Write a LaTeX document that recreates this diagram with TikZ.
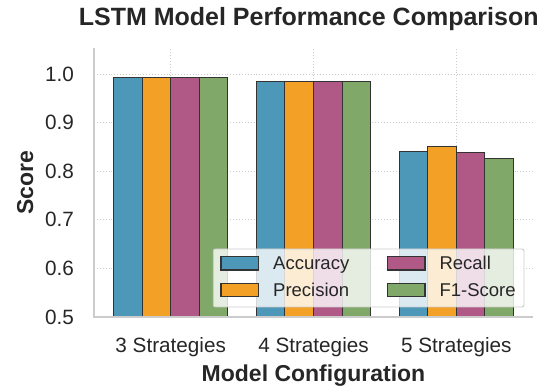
\documentclass[tikz,border=0pt]{standalone}
\usepackage{fontspec}
\setmainfont{Liberation Sans}
\usepackage{xcolor}
\usetikzlibrary{positioning}
\definecolor{accblue}{RGB}{77,152,184}
\definecolor{preorange}{RGB}{243,160,38}
\definecolor{recpurple}{RGB}{176,89,135}
\definecolor{fonegreen}{RGB}{128,168,104}
\definecolor{spinegray}{RGB}{204,204,204}
\definecolor{textgray}{RGB}{38,38,38}

\begin{document}
\begin{tikzpicture}[x=1pt,y=1pt,
        bar/.style={draw=black!80,line width=1.1pt},
        gridline/.style={draw=spinegray,dotted,line width=0.9pt},
        spine/.style={draw=spinegray,line width=1.8pt}]
    \useasboundingbox (0,0) rectangle (556,387);

    \begin{scope}[shift={(170.7pt,-173pt)},x=142.8pt,y=486pt]
        \draw[gridline] (-0.537,0.6) -- (2.537,0.6);
        \draw[gridline] (-0.537,0.7) -- (2.537,0.7);
        \draw[gridline] (-0.537,0.8) -- (2.537,0.8);
        \draw[gridline] (-0.537,0.9) -- (2.537,0.9);
        \draw[gridline] (-0.537,1.0) -- (2.537,1.0);
        \draw[gridline] (0,0.5) -- (0,1.0535);
        \draw[gridline] (1,0.5) -- (1,1.0535);
        \draw[gridline] (2,0.5) -- (2,1.0535);

        \draw[bar,fill=accblue]   (-0.4,0.5) rectangle (-0.2,0.993);
        \draw[bar,fill=preorange] (-0.2,0.5) rectangle (0.0,0.993);
        \draw[bar,fill=recpurple] (0.0,0.5) rectangle (0.2,0.993);
        \draw[bar,fill=fonegreen] (0.2,0.5) rectangle (0.4,0.993);

        \draw[bar,fill=accblue]   (0.6,0.5) rectangle (0.8,0.985);
        \draw[bar,fill=preorange] (0.8,0.5) rectangle (1.0,0.985);
        \draw[bar,fill=recpurple] (1.0,0.5) rectangle (1.2,0.985);
        \draw[bar,fill=fonegreen] (1.2,0.5) rectangle (1.4,0.985);

        \draw[bar,fill=accblue]   (1.6,0.5) rectangle (1.8,0.840);
        \draw[bar,fill=preorange] (1.8,0.5) rectangle (2.0,0.851);
        \draw[bar,fill=recpurple] (2.0,0.5) rectangle (2.2,0.839);
        \draw[bar,fill=fonegreen] (2.2,0.5) rectangle (2.4,0.827);

        \draw[spine] (-0.537,1.0535) -- (-0.537,0.5) -- (2.537,0.5);

        \coordinate (y05) at (-0.537,0.5);
        \coordinate (y06) at (-0.537,0.6);
        \coordinate (y07) at (-0.537,0.7);
        \coordinate (y08) at (-0.537,0.8);
        \coordinate (y09) at (-0.537,0.9);
        \coordinate (y10) at (-0.537,1.0);
        \coordinate (c3) at (0,0.5);
        \coordinate (c4) at (1,0.5);
        \coordinate (c5) at (2,0.5);
    \end{scope}

    \begin{scope}[every node/.style={inner sep=0pt,text=textgray,font=\fontsize{20.7}{24}\selectfont}]
        \node[left=20pt of y05] (t05) {0.5};
        \node[left=20pt of y06] (t06) {0.6};
        \node[left=20pt of y07] (t07) {0.7};
        \node[left=20pt of y08] (t08) {0.8};
        \node[left=20pt of y09] (t09) {0.9};
        \node[left=20pt of y10] (t10) {1.0};
        \node[below=20pt of c3] (s3) {3 Strategies};
        \node[below=20pt of c4] (s4) {4 Strategies};
        \node[below=20pt of c5] (s5) {5 Strategies};
    \end{scope}

    \draw[draw=spinegray,fill=white,fill opacity=0.8,rounded corners=2pt,line width=0.9pt]
        (213.3,80) rectangle (524,138);
    \draw[bar,fill=accblue]   (221,117) rectangle (258.3,130.3);
    \draw[bar,fill=preorange] (221,90.3) rectangle (258.3,103.7);
    \draw[bar,fill=recpurple] (387.3,117) rectangle (425,130.3);
    \draw[bar,fill=fonegreen] (387.3,90.3) rectangle (425,103.7);

    \begin{scope}[every node/.style={inner sep=0pt,anchor=base west,text=textgray,font=\fontsize{18.5}{22}\selectfont}]
        \node (lacc) at (273,117) {Accuracy};
        \node (lpre) at (273,90.3) {Precision};
        \node (lrec) at (439.3,117) {Recall};
        \node (lfone) at (439.3,90.3) {F1-Score};
    \end{scope}

    \begin{scope}[every node/.style={inner sep=0pt,anchor=base,text=textgray}]
        \node[font=\fontsize{25}{30}\selectfont\bfseries] (title) at (308.7,361) {LSTM Model Performance Comparison};
        \node[font=\fontsize{23}{28}\selectfont\bfseries] (xlab) at (313.5,5.5) {Model Configuration};
        \node[font=\fontsize{23}{28}\selectfont\bfseries,rotate=90] (ylab) at (33,204) {Score};
    \end{scope}
\end{tikzpicture}
\end{document}
